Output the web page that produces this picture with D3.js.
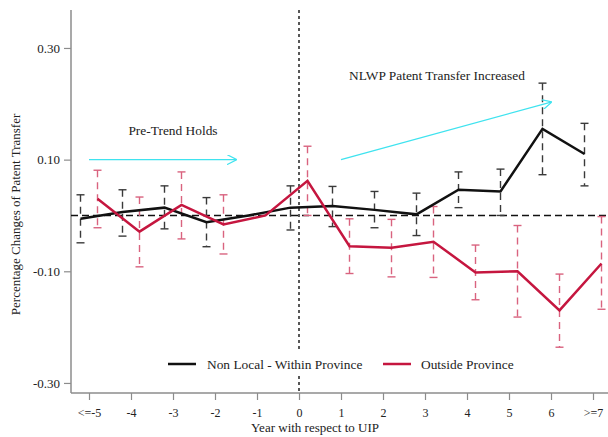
<!DOCTYPE html>
<html>
<head>
<meta charset="utf-8">
<script src="https://cdn.jsdelivr.net/npm/d3@7"></script>
<style>
  html, body { margin: 0; padding: 0; background: #fff; }
  svg { display: block; }
  svg text { font-family: "Liberation Serif", "Times New Roman", Times, "DejaVu Serif", serif !important; }
</style>
</head>
<body>
<svg id="chart" width="608" height="437"></svg>
<script>
// Event-study estimates relative to the year of UIP (year -1 is the omitted reference)
const years = ["<=-5", "-4", "-3", "-2", "-1", "0", "1", "2", "3", "4", "5", "6", ">=7"];

const withinCoef = [-0.006, 0.006, 0.014, -0.012, 0, 0.014, 0.017, 0.010, 0.002, 0.046, 0.043, 0.155, 0.110];
const withinLo   = [-0.049, -0.037, -0.024, -0.056, null, -0.026, -0.020, -0.022, -0.036, 0.014, 0.000, 0.073, 0.053];
const withinHi   = [0.037, 0.046, 0.053, 0.032, null, 0.053, 0.052, 0.043, 0.040, 0.078, 0.083, 0.237, 0.165];

const outsideCoef = [0.030, -0.029, 0.019, -0.016, 0, 0.062, -0.055, -0.058, -0.047, -0.102, -0.100, -0.170, -0.086];
const outsideLo   = [-0.022, -0.092, -0.042, -0.069, null, 0.000, -0.104, -0.110, -0.111, -0.151, -0.182, -0.236, -0.168];
const outsideHi   = [0.081, 0.033, 0.078, 0.037, null, 0.124, -0.006, -0.007, 0.016, -0.053, -0.018, -0.105, -0.002];

const yTicks = [0.30, 0.10, -0.10, -0.30];

const svg = d3.select("#chart");
const plotLeft = 71, plotRight = 608, plotTop = 10, plotBottom = 393;
const serif = "'Liberation Serif', 'Times New Roman', Times, serif";

const x = d3.scaleLinear().domain([-0.4286, 12.357]).range([plotLeft, plotRight]);
const y = d3.scaleLinear().domain([-0.318, 0.368]).range([plotBottom, plotTop]);
const dodge = 8.5; // horizontal offset between the two series

const series = [
  { name: "Non Local - Within Province", coef: withinCoef, lo: withinLo, hi: withinHi,
    line: "#111111", bar: "#3a3a3a", off: -dodge },
  { name: "Outside Province", coef: outsideCoef, lo: outsideLo, hi: outsideHi,
    line: "#c5163f", bar: "#d9637f", off: dodge }
];

const fmt = v => d3.format(".2f")(v).replace("\u2212", "-");

// Axes
const yAxis = d3.axisLeft(y).tickValues(yTicks).tickFormat(fmt).tickSize(7).tickPadding(4);
const gy = svg.append("g").attr("transform", `translate(${plotLeft},0)`).call(yAxis)
  .attr("font-family", serif);
gy.select(".domain").remove();
gy.append("line").attr("x1", 0).attr("x2", 0).attr("y1", plotTop).attr("y2", plotBottom)
  .attr("stroke", "#8c8c8c").attr("stroke-width", 1.5);
gy.selectAll(".tick line").attr("stroke", "#8c8c8c").attr("stroke-width", 1.2);
gy.selectAll(".tick text").attr("font-size", 13).attr("fill", "#222");

const xAxis = d3.axisBottom(x).tickValues(d3.range(years.length)).tickFormat(i => years[i]).tickSize(7).tickPadding(8);
const gx = svg.append("g").attr("transform", `translate(0,${plotBottom})`).call(xAxis)
  .attr("font-family", serif);
gx.select(".domain").remove();
gx.append("line").attr("x1", plotLeft).attr("x2", plotRight).attr("y1", 0).attr("y2", 0)
  .attr("stroke", "#8c8c8c").attr("stroke-width", 1.5);
gx.selectAll(".tick line").attr("stroke", "#8c8c8c").attr("stroke-width", 1.2);
gx.selectAll(".tick text").attr("font-size", 12).attr("fill", "#222");

// Axis titles
svg.append("text").attr("x", 315).attr("y", 432).attr("text-anchor", "middle")
  .attr("font-size", 13).attr("fill", "#222").text("Year with respect to UIP");
svg.append("text").attr("transform", `translate(20,${y(0) - 1}) rotate(-90)`).attr("text-anchor", "middle")
  .attr("font-size", 13).attr("fill", "#222").text("Percentage Changes of Patent Transfer");

// Zero reference line and treatment year marker
svg.append("line").attr("x1", plotLeft).attr("x2", plotRight).attr("y1", y(0)).attr("y2", y(0))
  .attr("stroke", "#111").attr("stroke-width", 1.4).attr("stroke-dasharray", "7,4");
svg.append("line").attr("x1", x(5)).attr("x2", x(5)).attr("y1", plotTop).attr("y2", plotBottom)
  .attr("stroke", "#111").attr("stroke-width", 1.4).attr("stroke-dasharray", "3,3");

// Confidence intervals
series.forEach(s => {
  const g = svg.append("g");
  s.coef.forEach((c, i) => {
    if (s.lo[i] === null) return;
    const cx = x(i) + s.off;
    g.append("line").attr("x1", cx).attr("x2", cx).attr("y1", y(s.hi[i])).attr("y2", y(s.lo[i]))
      .attr("stroke", s.bar).attr("stroke-width", 1.4).attr("stroke-dasharray", "7,5");
    [s.hi[i], s.lo[i]].forEach(v => {
      g.append("line").attr("x1", cx - 4).attr("x2", cx + 4).attr("y1", y(v)).attr("y2", y(v))
        .attr("stroke", s.bar).attr("stroke-width", 1.4);
    });
  });
});

// Point estimates
series.forEach(s => {
  const line = d3.line().x((d, i) => x(i) + s.off).y(d => y(d));
  svg.append("path").datum(s.coef).attr("d", line).attr("fill", "none")
    .attr("stroke", s.line).attr("stroke-width", 2.5).attr("stroke-linejoin", "miter");
});

// Annotations
const defs = svg.append("defs");
defs.append("marker").attr("id", "arrow").attr("viewBox", "0 0 10 10").attr("refX", 9).attr("refY", 5)
  .attr("markerWidth", 10).attr("markerHeight", 10).attr("markerUnits", "userSpaceOnUse").attr("orient", "auto")
  .append("path").attr("d", "M0,0 L10,5 L0,10").attr("fill", "none").attr("stroke", "#3fe3ef").attr("stroke-width", 1.2);

svg.append("line").attr("x1", x(0)).attr("x2", x(3.5)).attr("y1", y(0.10)).attr("y2", y(0.10))
  .attr("stroke", "#3fe3ef").attr("stroke-width", 1.3).attr("marker-end", "url(#arrow)");
svg.append("line").attr("x1", x(6)).attr("x2", x(11)).attr("y1", y(0.10)).attr("y2", y(0.203))
  .attr("stroke", "#3fe3ef").attr("stroke-width", 1.3).attr("marker-end", "url(#arrow)");

svg.append("text").attr("x", 173).attr("y", 135).attr("text-anchor", "middle")
  .attr("font-size", 13.4).attr("fill", "#222").text("Pre-Trend Holds");
svg.append("text").attr("x", 349).attr("y", 80)
  .attr("font-size", 13.4).attr("fill", "#222").text("NLWP Patent Transfer Increased");

// Legend
const lg = svg.append("g");
lg.append("rect").attr("x", 160).attr("y", 352).attr("width", 370).attr("height", 24).attr("fill", "#fff");
const legendPos = [{ x: 168, tx: 207 }, { x: 383, tx: 421 }];
series.forEach((s, k) => {
  const p = legendPos[k];
  lg.append("line").attr("x1", p.x).attr("x2", p.x + 28).attr("y1", 364).attr("y2", 364)
    .attr("stroke", s.line).attr("stroke-width", 2.5);
  lg.append("text").attr("x", p.tx).attr("y", 368.5).attr("font-size", 13.4).attr("fill", "#222").text(s.name);
});

svg.selectAll("text").attr("font-family", serif);
</script>
</body>
</html>
